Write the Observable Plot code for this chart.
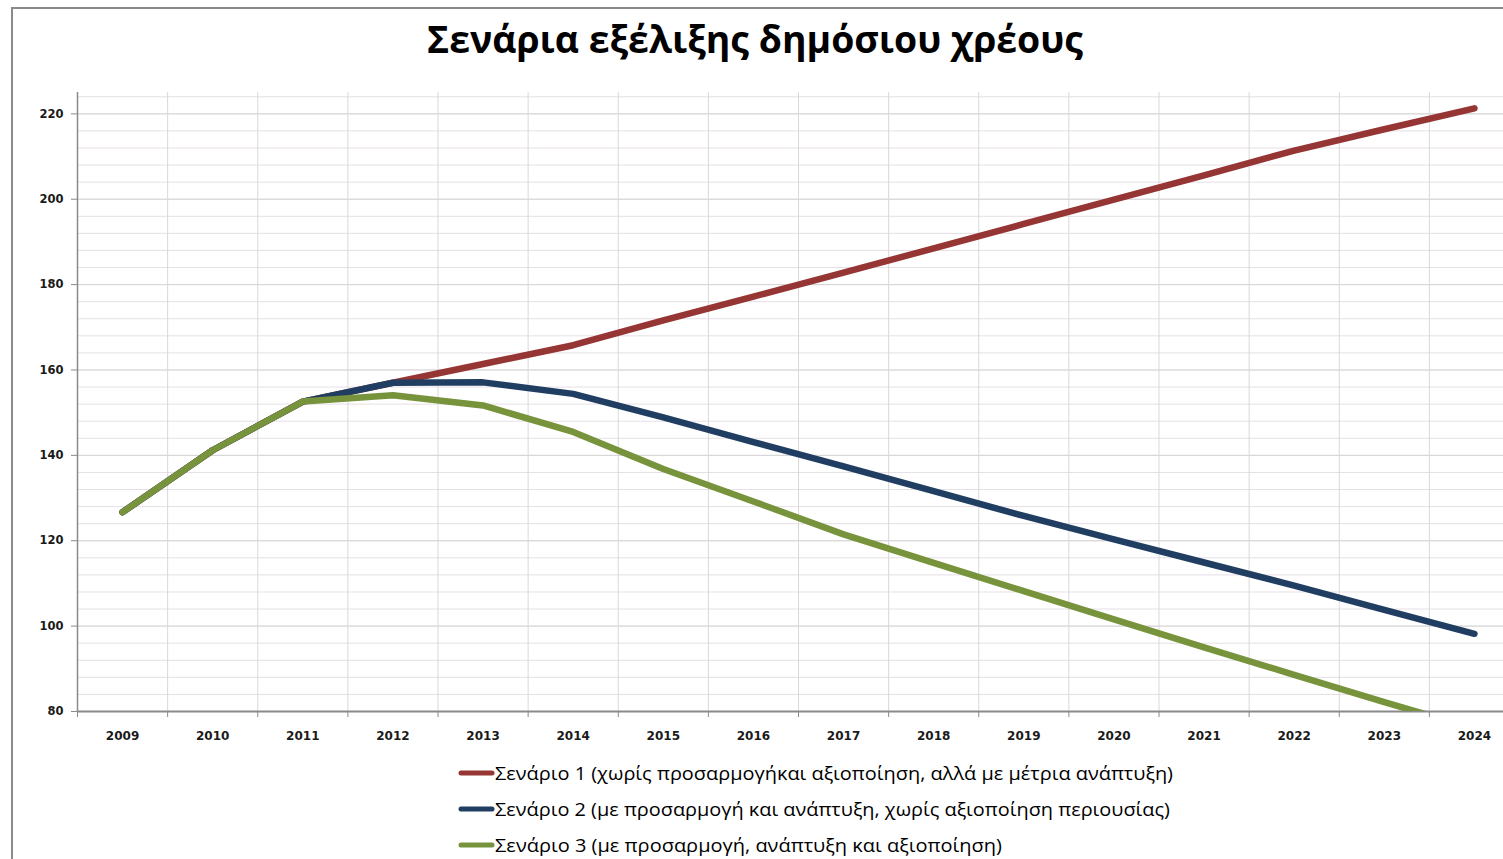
<!DOCTYPE html>
<html>
<head>
<meta charset="utf-8">
<script src="https://cdn.jsdelivr.net/npm/d3@7"></script>
<script src="https://cdn.jsdelivr.net/npm/@observablehq/plot@0.6"></script>
<style>
  html, body { margin: 0; padding: 0; background: #fff; overflow: hidden; }
  #wrap { position: relative; width: 1503px; height: 859px; overflow: hidden; background: #fff; }
  #border { position: absolute; left: 11px; top: 7px; width: 1600px; height: 900px;
            border-left: 2px solid #8a8a8a; border-top: 2px solid #8a8a8a; box-sizing: border-box; }
  #plot { position: absolute; left: 0; top: 0; width: 1520px; height: 859px; }
  #plot svg { max-width: none !important; }
  #title { position: absolute; left: 0; top: 0; }
  #legend { position: absolute; left: 0; top: 750px; }
</style>
</head>
<body>
<div id="wrap">
  <div id="border"></div>
  <div id="plot"></div>
  <svg id="title" width="1503" height="75"></svg>
  <svg id="legend" width="1503" height="109"></svg>
</div>
<script>
// ---- data ----
const years = [2009, 2010, 2011, 2012, 2013, 2014, 2015, 2016, 2017, 2018, 2019, 2020, 2021, 2022, 2023, 2024];
const scenario1 = [126.7, 141.2, 152.6, 157.0, 161.4, 165.8, 171.6, 177.2, 182.8, 188.5, 194.2, 199.9, 205.6, 211.4, 216.4, 221.3];
const scenario2 = [126.7, 141.2, 152.6, 157.0, 157.1, 154.4, 148.9, 143.1, 137.4, 131.6, 125.8, 120.3, 114.9, 109.5, 103.8, 98.2];
const scenario3 = [126.7, 141.2, 152.6, 154.1, 151.7, 145.5, 136.8, 129.2, 121.5, 114.8, 108.2, 101.6, 95.0, 88.6, 82.2, 76.0];
const seriesNames = [
  "Σενάριο 1 (χωρίς προσαρμογήκαι αξιοποίηση, αλλά με μέτρια ανάπτυξη)",
  "Σενάριο 2 (με προσαρμογή και ανάπτυξη, χωρίς αξιοποίηση περιουσίας)",
  "Σενάριο 3 (με προσαρμογή, ανάπτυξη και αξιοποίηση)"
];
const seriesColors = ["#963634", "#203e62", "#77933c"];
const yTicks = [80, 100, 120, 140, 160, 180, 200, 220];
const titleText = "Σενάρια εξέλιξης δημόσιου χρέους";

// ---- build table ----
const seriesValues = [scenario1, scenario2, scenario3];
const rows = [];
seriesValues.forEach((vals, i) => vals.forEach((v, j) => rows.push({year: years[j], value: v, series: seriesNames[i]})));
const boundaries = years.map(y => y - 0.5);
const minorY = d3.range(80, 226, 4);

const chart = Plot.plot({
  width: 1520,
  height: 859,
  marginLeft: 77,
  marginRight: 1,
  marginTop: 92,
  marginBottom: 148,
  x: {type: "linear", domain: [2008.5, 2024.5], label: null},
  y: {domain: [80, 225], label: null},
  color: {domain: seriesNames, range: seriesColors},
  style: {fontFamily: "'DejaVu Sans', Verdana, sans-serif", fontSize: "11px", fontWeight: "bold", background: "transparent", color: "#1a1a1a", maxWidth: "none"},
  marks: [
    Plot.ruleY(minorY, {stroke: "#e6dfe6", strokeWidth: 1}),
    Plot.ruleY(yTicks, {stroke: "#d6d6d6", strokeWidth: 1}),
    Plot.ruleX(boundaries.slice(1), {stroke: "#d9d9d9", strokeWidth: 1}),
    Plot.ruleX([2008.5], {stroke: "#8a8a8a", strokeWidth: 1.5}),
    Plot.ruleY([80], {stroke: "#8a8a8a", strokeWidth: 2}),
    Plot.axisY({ticks: yTicks, tickSize: 6, tickPadding: 8, stroke: "#8a8a8a", fill: "#1a1a1a", fontSize: 11.5, label: null}),
    Plot.axisX({ticks: years, tickSize: 0, tickPadding: 20, tickFormat: d => String(d), fill: "#1a1a1a", fontSize: 12, label: null}),
    Plot.axisX({ticks: boundaries, tickSize: 6, tickFormat: () => "", stroke: "#8a8a8a", label: null}),
    Plot.line(rows, {x: "year", y: "value", z: "series", stroke: "series", strokeWidth: 6.5,
                     strokeLinejoin: "round", strokeLinecap: "round", clip: true})
  ]
});
chart.style.maxWidth = "none";
document.getElementById("plot").appendChild(chart);

// ---- title ----
const ns = "http://www.w3.org/2000/svg";
const tsvg = document.getElementById("title");
const tt = document.createElementNS(ns, "text");
tt.setAttribute("x", 755);
tt.setAttribute("y", 53);
tt.setAttribute("text-anchor", "middle");
tt.setAttribute("font-family", "'Open Sans', 'Noto Sans', sans-serif");
tt.setAttribute("font-weight", "bold");
tt.setAttribute("font-size", 37);
tt.setAttribute("textLength", 656);
tt.setAttribute("lengthAdjust", "spacingAndGlyphs");
tt.setAttribute("fill", "#000");
tt.textContent = titleText;
tsvg.appendChild(tt);

// ---- legend ----
const lsvg = document.getElementById("legend");
const rowY = [23, 59, 95];
const textLens = [678, 675, 507];
seriesNames.forEach((name, i) => {
  const ln = document.createElementNS(ns, "line");
  ln.setAttribute("x1", 461); ln.setAttribute("x2", 492);
  ln.setAttribute("y1", rowY[i]); ln.setAttribute("y2", rowY[i]);
  ln.setAttribute("stroke", seriesColors[i]);
  ln.setAttribute("stroke-width", 5);
  ln.setAttribute("stroke-linecap", "round");
  lsvg.appendChild(ln);
  const tx = document.createElementNS(ns, "text");
  tx.setAttribute("x", 495);
  tx.setAttribute("y", rowY[i] + 7);
  tx.setAttribute("font-family", "'Open Sans', 'Noto Sans', sans-serif");
  tx.setAttribute("font-size", 19);
  tx.setAttribute("textLength", textLens[i]);
  tx.setAttribute("lengthAdjust", "spacingAndGlyphs");
  tx.setAttribute("fill", "#000");
  tx.textContent = name;
  lsvg.appendChild(tx);
});
</script>
</body>
</html>
